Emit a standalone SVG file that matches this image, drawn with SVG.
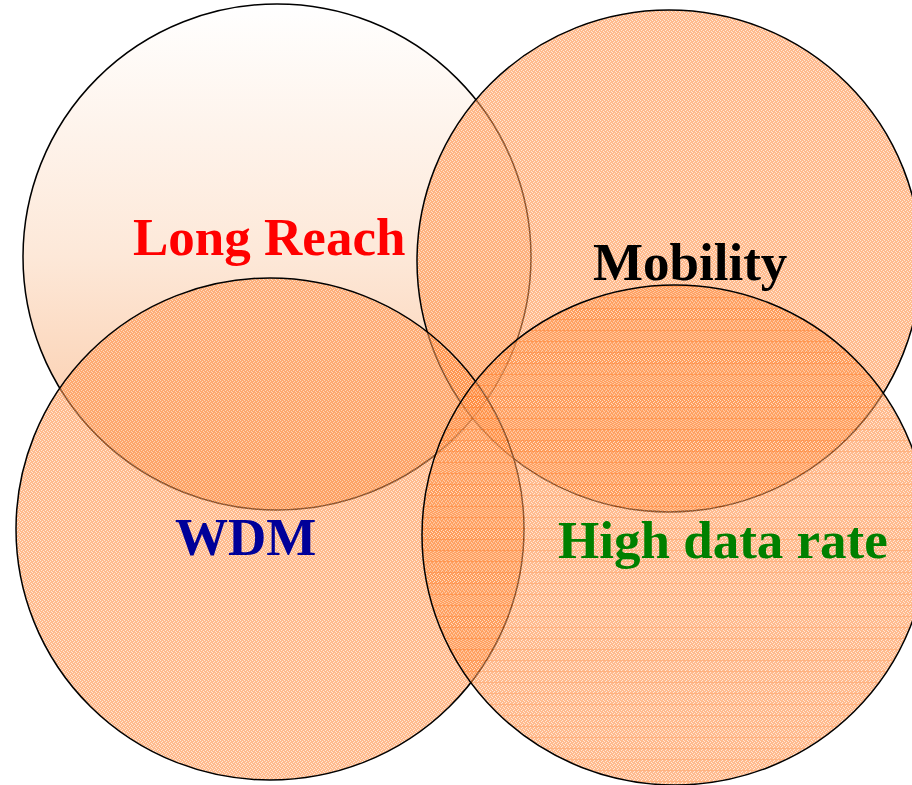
<svg xmlns="http://www.w3.org/2000/svg" width="912" height="785" viewBox="0 0 912 785">
  <defs>
    <!-- soft white-to-peach fill for the top-left set -->
    <linearGradient id="peach" x1="0" y1="0" x2="0" y2="1">
      <stop offset="0" stop-color="#FFFFFF"/>
      <stop offset="0.5" stop-color="#FDE8D8"/>
      <stop offset="1" stop-color="#FAC29A"/>
    </linearGradient>
    <!-- dithered orange texture -->
    <pattern id="dither" patternUnits="userSpaceOnUse" width="4" height="4">
      <rect width="4" height="4" fill="#FF8A3C"/>
      <rect x="0" y="0" width="1" height="1" fill="#FFD6BA"/>
      <rect x="2" y="1" width="1" height="1" fill="#FFD6BA"/>
      <rect x="1" y="2" width="1" height="1" fill="#FFD6BA"/>
      <rect x="3" y="3" width="1" height="1" fill="#FFD6BA"/>
    </pattern>
    <!-- dithered texture with faint horizontal rules -->
    <pattern id="ruled" patternUnits="userSpaceOnUse" width="4" height="11">
      <rect width="4" height="11" fill="url(#dither)"/>
      <rect x="0" y="0" width="4" height="1" fill="#FF7A24"/>
    </pattern>
  </defs>
  <style>
    .set { stroke: #000000; stroke-width: 1.5; }
    .tex { fill: url(#dither); fill-opacity: 0.58; }
    .lbl { font-family: "Liberation Serif", "Times New Roman", serif; font-weight: bold; font-size: 53px; }
  </style>

  <rect width="912" height="785" fill="#FFFFFF"/>

  <g id="long-reach">
    <ellipse class="set" cx="277" cy="257" rx="254" ry="253" fill="url(#peach)"/>
    <text class="lbl" x="133" y="255" fill="#FF0000">Long Reach</text>
  </g>

  <g id="mobility">
    <ellipse class="set tex" cx="669" cy="261" rx="252" ry="251"/>
    <text class="lbl" x="593" y="280" fill="#000000">Mobility</text>
  </g>

  <g id="wdm">
    <ellipse class="set tex" cx="270" cy="529" rx="254" ry="251"/>
    <text class="lbl" x="175" y="555" fill="#000099">WDM</text>
  </g>

  <g id="high-data-rate">
    <ellipse class="set" cx="675" cy="535" rx="253" ry="250" fill="url(#ruled)" fill-opacity="0.58"/>
    <text class="lbl" x="558" y="558" fill="#008000">High data rate</text>
  </g>
</svg>
